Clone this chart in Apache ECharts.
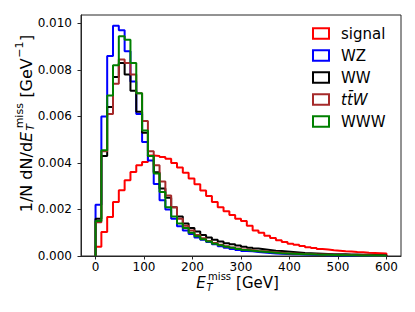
<!DOCTYPE html>
<html><head><meta charset="utf-8">
<script src="https://cdn.jsdelivr.net/npm/echarts@6/dist/echarts.min.js"></script>
<style>html,body{margin:0;padding:0;background:#fff}#c{width:415px;height:312px}</style>
</head><body><div id="c"></div>
<script>
// ---- data ----
const binEdges = [0,12,24,36,48,60,72,84,96,108,120,132,144,156,168,180,192,204,216,228,240,252,264,276,288,300,312,324,336,348,360,372,384,396,408,420,432,444,456,468,480,492,504,516,528,540,552,564,576,588,600];
const seriesNames = ['signal','WZ','WW','ttW','WWW'];
const signal = [0.0004,0.00103,0.00168,0.00232,0.00283,0.00326,0.00361,0.0039,0.00404,0.00432,
  0.0043,0.00426,0.00418,0.004,0.0038,0.00358,0.00333,0.00308,0.00282,0.00258,
  0.00232,0.0021,0.00192,0.00176,0.0016,0.0015,0.0013,0.0011,0.001,0.00087,
  0.00077,0.00068,0.0006,0.00053,0.00048,0.00043,0.00038,0.00034,0.0003,0.00028,
  0.00025,0.00023,0.0002,0.00019,0.00017,0.00016,0.00014,0.00013,0.00012,0.00011];
const wz = [0.0022,0.006,0.0086,0.0099,0.0097,0.0088,0.0075,0.0061,0.0049,0.0041,
  0.0031,0.0024,0.002,0.0016,0.00128,0.0011,0.00095,0.0008,0.0007,0.0006,
  0.0005,0.00042,0.00036,0.0003,0.00026,0.00022,0.0002,0.00017,0.00015,0.00013,
  0.00011,0.0001,0.00009,0.00008,0.00007,0.00006,0.00005,0.000045,0.00004,0.000035,
  0.00003,0.000028,0.000025,0.000022,0.00002,0.000018,0.000016,0.000014,0.000012,0.00001];
const ww = [0.0016,0.0043,0.0064,0.0077,0.0083,0.0078,0.0071,0.0062,0.0053,0.0043,
  0.0036,0.0029,0.0025,0.0021,0.0017,0.0014,0.0012,0.00105,0.0009,0.0008,
  0.0007,0.00062,0.00055,0.0005,0.00045,0.0004,0.00036,0.00032,0.00029,0.00026,
  0.00023,0.00021,0.00019,0.00017,0.00015,0.00013,0.00012,0.00011,0.0001,0.00009,
  0.00008,0.000075,0.00007,0.000065,0.00006,0.000055,0.00005,0.000045,0.00004,0.000035];
const ttw = [0.00145,0.0045,0.0061,0.0074,0.00845,0.0083,0.0078,0.007,0.0058,0.0045,
  0.0039,0.0032,0.0026,0.0021,0.0016,0.0013,0.0011,0.0009,0.00076,0.00065,
  0.00056,0.00048,0.00042,0.00037,0.00032,0.00028,0.00025,0.00022,0.0002,0.00018,
  0.00016,0.00014,0.00012,0.00011,0.0001,0.00009,0.00008,0.00007,0.000065,0.00006,
  0.000055,0.00005,0.000045,0.00004,0.000035,0.00003,0.000028,0.000025,0.000022,0.00002];
const www = [0.0015,0.00455,0.0069,0.0082,0.00945,0.0093,0.0083,0.007,0.0054,0.0043,
  0.00355,0.00275,0.0021,0.0017,0.0014,0.0012,0.001,0.00085,0.00072,0.00062,
  0.00053,0.00046,0.0004,0.00035,0.0003,0.00026,0.00023,0.0002,0.00018,0.00016,
  0.00014,0.00012,0.00011,0.0001,0.00009,0.00008,0.00007,0.00006,0.000055,0.00005,
  0.000045,0.00004,0.000035,0.00003,0.000028,0.000025,0.000022,0.00002,0.000018,0.000016];
const xTicks = [0,100,200,300,400,500,600];
const yTicks = [0,0.002,0.004,0.006,0.008,0.010];

// ---- styling ----
const colors = ['#ff0000','#0000ff','#000000','#a52a2a','#008000'];
const FONT = 'DejaVu Sans';
const axisColor = '#262626';

function stepData(vals){
  const d = [[binEdges[0],0]];
  vals.forEach((v,i)=>d.push([binEdges[i],v]));
  d.push([binEdges[binEdges.length-1], vals[vals.length-1]]);
  d.push([binEdges[binEdges.length-1], 0]);
  return d;
}

const mctx = document.createElement('canvas').getContext('2d');
function tw(t,size,it){ mctx.font=(it?'italic ':'')+size+'px "'+FONT+'"'; return mctx.measureText(t).width; }

// Build an axis title from text pieces laid out left to right.
// pieces: {t,size,it,dy} simple, or {stack:[supText, subText], size, supDy, subDy, supPad}
function buildTitle(pieces, baseY){
  let x = 0; const els = [];
  pieces.forEach(p=>{
    x += (p.dx||0);
    if(p.stack){
      const [sup, sub] = p.stack, s = p.size;
      const wSup = tw(sup,s,false) + (p.supPad||0), wSub = tw(sub,s,true);
      const lh = p.subDy - p.supDy;
      const supMid = baseY + p.supDy - 0.3*s;
      els.push({type:'text', x, y: supMid + lh/2, silent:true,
        style:{text:'{a|'+sup+'}\n{b|'+sub+'}', textAlign:'left', textVerticalAlign:'middle',
          rich:{a:{fontSize:s,fontFamily:FONT,fill:'#000',color:'#000',lineHeight:lh,padding:[0,0,0,p.supPad||0]},
                b:{fontSize:s,fontFamily:FONT,fontStyle:'italic',fill:'#000',color:'#000',lineHeight:lh}}}});
      x += Math.max(wSup, wSub);
    } else {
      els.push({type:'text', x, y: baseY + (p.dy||0) - 0.3*p.size, silent:true,
        style:{text:p.t, fontSize:p.size, fontFamily:FONT, fontStyle:p.it?'italic':'normal',
          fill:'#000', textAlign:'left', textVerticalAlign:'middle'}});
      x += tw(p.t,p.size,p.it);
    }
  });
  return {els, width:x};
}

const xt = buildTitle([
  {t:'E',size:15,it:true},
  {stack:['miss','T'],size:10,supDy:-8,subDy:3,supPad:1.5,dx:1},
  {t:'[GeV]',size:15,dx:5}
], 287.5);
const xCenter = 237.5;
xt.els.forEach(e=>{ e.x += xCenter - xt.width/2; });

const yt = buildTitle([
  {t:'1/N dN/d',size:16},
  {t:'E',size:16,it:true},
  {stack:['miss','T'],size:11,supDy:-8.5,subDy:3,supPad:2.5,dx:1},
  {t:'[GeV',size:16,dx:5.5},
  {t:'\u22121',size:11,dy:-8.5,dx:0.5},
  {t:']',size:16,dx:0.5}
], 0);
const yCenter = 123.5, yBase = 31;
const yLabelGroup = {type:'group', x:yBase, y:yCenter + yt.width/2, rotation:Math.PI/2, children: yt.els};

const chart = echarts.init(document.getElementById('c'), null, {renderer:'svg'});
chart.setOption({
  animation:false,
  backgroundColor:'#fff',
  grid:{left:81,right:14,top:15,bottom:56,show:true,borderColor:axisColor,borderWidth:1,backgroundColor:'transparent'},
  xAxis:{type:'value',min:-30,max:630,
    axisLine:{show:true,onZero:false,lineStyle:{color:axisColor,width:1}},
    axisTick:{show:true,length:3.5,lineStyle:{color:axisColor,width:1},customValues:xTicks},
    axisLabel:{customValues:xTicks,margin:4.5,fontSize:12,fontFamily:FONT,color:'#000'},
    splitLine:{show:false}},
  yAxis:{type:'value',min:0,max:0.01036,
    axisLine:{show:true,onZero:false,lineStyle:{color:axisColor,width:1}},
    axisTick:{show:true,length:3.5,lineStyle:{color:axisColor,width:1},customValues:yTicks},
    axisLabel:{customValues:yTicks,margin:9,fontSize:12,fontFamily:FONT,color:'#000',
      formatter:v=>v.toFixed(3)},
    splitLine:{show:false}},
  legend:{orient:'vertical',left:312,top:26,itemWidth:16,itemHeight:10.5,itemGap:7,
    padding:0,
    textStyle:{fontSize:15,fontFamily:FONT,color:'#000',padding:[0,0,0,7],
      rich:{it:{fontSize:15,fontFamily:FONT,fontStyle:'italic',color:'#000'}}},
    formatter:n=> n==='ttW' ? '{it|tt\u0304W}' : n,
    data: seriesNames.map((n,i)=>({name:n,icon:'rect',
      itemStyle:{color:'#ffffff',borderColor:colors[i],borderWidth:2}}))},
  graphic: [...xt.els, yLabelGroup],
  series: [signal,wz,ww,ttw,www].map((vals,i)=>({
    name:seriesNames[i], type:'line', step:'end', symbol:'none', clip:true,
    data: stepData(vals),
    itemStyle:{color:colors[i]},
    lineStyle:{color:colors[i],width:2},
    emphasis:{disabled:true}
  }))
});
</script>
</body></html>
